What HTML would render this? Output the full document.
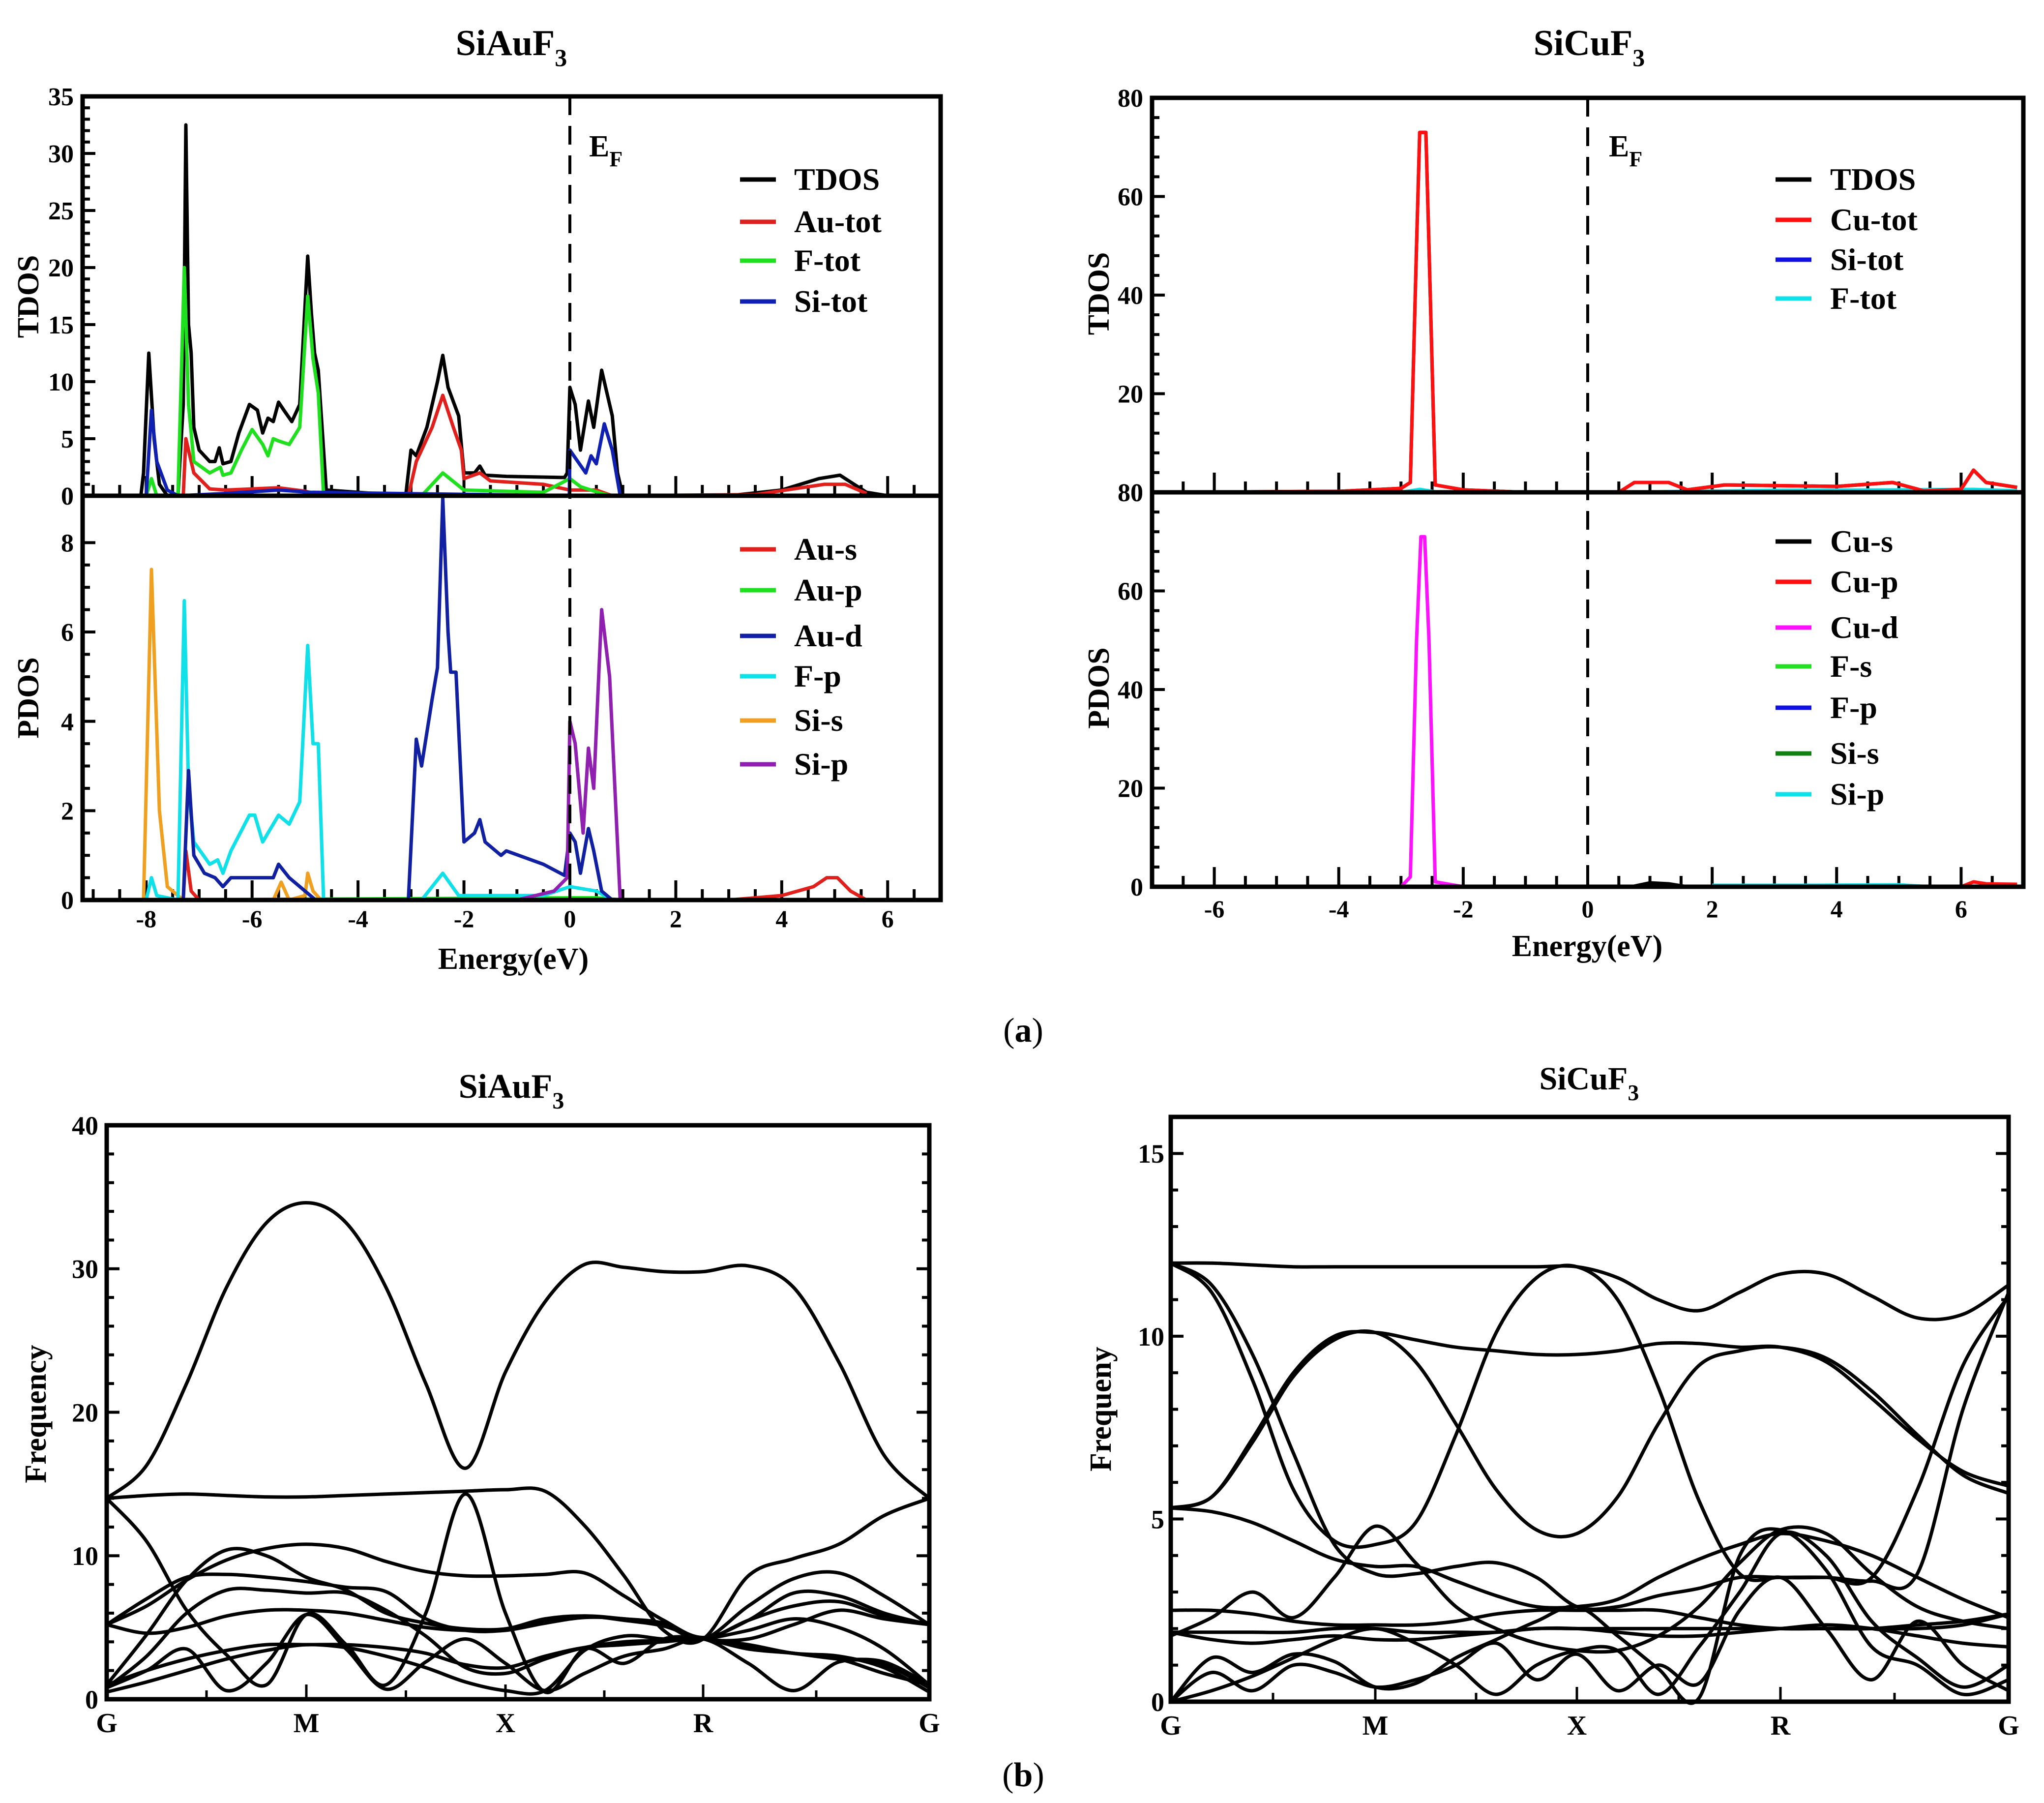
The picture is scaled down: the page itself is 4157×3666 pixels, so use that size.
<!DOCTYPE html>
<html><head><meta charset="utf-8"><style>
html,body{margin:0;padding:0;background:#fff;overflow:hidden;}
svg{display:block;}
text{font-family:"Liberation Serif",serif;font-weight:bold;fill:#000;}
</style></head><body>
<svg id="fig" xmlns="http://www.w3.org/2000/svg" width="4157" height="3666" viewBox="0 0 4157 3666">
<rect width="4157" height="3666" fill="#fff"/>
<text x="1040" y="112" font-size="74" text-anchor="middle">SiAuF<tspan font-size="50" dy="22">3</tspan></text>
<text x="3232" y="112" font-size="74" text-anchor="middle">SiCuF<tspan font-size="50" dy="22">3</tspan></text>
<text x="1040" y="2232" font-size="70" text-anchor="middle">SiAuF<tspan font-size="48" dy="22">3</tspan></text>
<text x="3232" y="2215" font-size="66" text-anchor="middle">SiCuF<tspan font-size="46" dy="22">3</tspan></text>
<text x="2081" y="2118" font-size="70" text-anchor="middle" style="font-weight:normal">(<tspan font-weight="bold">a</tspan>)</text>
<text x="2081" y="3632" font-size="70" text-anchor="middle" style="font-weight:normal">(<tspan font-weight="bold">b</tspan>)</text>
<g id="plots"></g>
</svg>
<script>
// ===== SiAuF3 DOS data =====
const auTdosE=[-8.1,-8.05,-7.95,-7.85,-7.75,-7.6,-7.4,-7.3,-7.25,-7.2,-7.15,-7.1,-7.0,-6.8,-6.7,-6.62,-6.55,-6.4,-6.25,-6.05,-5.9,-5.8,-5.7,-5.6,-5.5,-5.4,-5.25,-5.1,-4.95,-4.88,-4.82,-4.75,-4.65,-4.6,-3.1,-3.0,-2.9,-2.7,-2.5,-2.4,-2.3,-2.1,-2.0,-1.8,-1.7,-1.6,-1.2,-0.1,-0.05,0,0.1,0.2,0.35,0.45,0.6,0.8,0.9,1.0,3,4,4.7,5.1,5.3,5.6,6];
const auTdosV=[0,2,12.5,5,1,0,0,8,32.5,15,12.5,6,4,3,3,4.2,2.8,3,5.5,8,7.5,5.5,6.8,6.5,8.2,7.5,6.5,8,21,16,12.5,11,4,0.5,0,4,3.5,6,10,12.3,9.5,7,2,2,2.6,1.8,1.7,1.6,2,9.5,8,4,8.3,6,11,7,2,0,0,0.5,1.5,1.8,1.2,0.3,0];
const auTotE=[-7.3,-7.25,-7.1,-6.8,-6.5,-5.5,-5,-4.7,-3.05,-2.9,-2.6,-2.4,-2.2,-2.05,-2.0,-1.7,-1.5,-0.5,0,0.5,0.8,3.5,4.8,5.2,5.6];
const auTotV=[0,5,2,0.6,0.5,0.7,0.4,0,0,3,6,8.8,6,4,1.5,2,1.3,1,0.5,0.5,0,0.1,1,1,0.2];
const fTotE=[-8,-7.9,-7.8,-7.4,-7.28,-7.2,-7.1,-6.8,-6.6,-6.55,-6.4,-6.2,-6.0,-5.8,-5.7,-5.6,-5.5,-5.3,-5.1,-4.95,-4.85,-4.75,-4.65,-2.8,-2.4,-2.0,-0.5,0,0.2,0.6,0.8];
const fTotV=[0,1.5,0,0,20,8,3,2,2.5,1.8,2,4,5.8,4.5,3.5,5,4.8,4.5,6,17.5,12,9,0,0,2,0.5,0.3,1.5,0.8,0.2,0];
const siTotE=[-8.0,-7.9,-7.8,-7.6,-7.4,-6.5,-5.5,-4.9,-0.01,0,0.15,0.3,0.4,0.5,0.65,0.8,0.95];
const siTotV=[0,7.5,3,0.5,0,0.2,0.5,0.3,0,4,3,2,3.5,2.8,6.3,4,0];
const auSE=[-7.3,-7.25,-7.15,-7,3,4,4.6,4.85,5.05,5.3,5.6];
const auSV=[0,1.1,0.2,0,0,0.1,0.3,0.5,0.5,0.2,0];
const auPE=[-8,0,0.5,1];
const auPV=[0,0.05,0.05,0];
const auDE=[-7.3,-7.2,-7.1,-6.9,-6.7,-6.55,-6.4,-5.6,-5.5,-5.3,-5,-4.8,-3.05,-2.9,-2.8,-2.6,-2.5,-2.4,-2.3,-2.25,-2.15,-2.0,-1.8,-1.7,-1.6,-1.3,-1.2,-0.5,-0.1,0,0.1,0.2,0.35,0.45,0.6,0.8];
const auDV=[0,2.9,1,0.6,0.5,0.3,0.5,0.5,0.8,0.5,0.2,0,0,3.6,3.0,4.5,5.2,9,6,5.1,5.1,1.3,1.5,1.8,1.3,1,1.1,0.8,0.55,1.5,1.3,0.6,1.6,1.1,0.2,0];
const fPE=[-8.0,-7.9,-7.8,-7.4,-7.28,-7.2,-7.1,-6.8,-6.65,-6.55,-6.4,-6.05,-5.95,-5.8,-5.6,-5.5,-5.3,-5.1,-4.95,-4.85,-4.75,-4.65,-2.8,-2.4,-2.1,-0.5,0,0.5,0.8];
const fPV=[0,0.5,0.1,0,6.7,2.5,1.3,0.8,0.9,0.6,1.1,1.9,1.9,1.3,1.7,1.9,1.7,2.2,5.7,3.5,3.5,0,0,0.6,0.1,0.1,0.3,0.2,0];
const siSE=[-8.05,-7.9,-7.75,-7.6,-7.3,-5.6,-5.45,-5.3,-5.0,-4.95,-4.85,-4.7];
const siSV=[0,7.4,2,0.3,0,0,0.4,0,0.1,0.6,0.2,0];
const siPE=[-1,-0.3,-0.05,0,0.1,0.25,0.35,0.45,0.6,0.75,0.95];
const siPV=[0,0.2,0.5,4,3.5,1.5,3.4,2.5,6.5,5,0];
// ===== SiCuF3 DOS data =====
const cuTotE=[-7,-4,-3,-2.85,-2.75,-2.7,-2.6,-2.55,-2.45,-2,-1,0.5,0.75,1.3,1.6,2.2,4,4.9,5.4,6,6.2,6.4,6.9];
const cuTotV=[0,0.2,0.8,2,50,73,73,50,1.5,0.5,0,0,2,2,0.5,1.5,1.2,2,0.3,0.6,4.5,2,1];
const cuFtotE=[-3,-2.7,-2.4,0.5,3,5,6.2,6.9];
const cuFtotV=[0,0.6,0,0,0.4,0.5,0.6,0.3];
const cuSE=[0.7,1,1.3,1.6];
const cuSV=[0,0.8,0.6,0];
const cuPE=[6,6.2,6.4,6.9];
const cuPV=[0,1,0.6,0.5];
const cuDE=[-3,-2.85,-2.75,-2.68,-2.62,-2.55,-2.45,-2];
const cuDV=[0,2,50,71,71,50,1,0];
const cuSiPE=[2,3.5,5,5.5];
const cuSiPV=[0.3,0.3,0.4,0];
// ===== band data (k = 0..4 step 0.2 : G-M-X-R-G) =====
const kPoints=[0,0.2,0.4,0.6,0.8,1.0,1.2,1.4,1.6,1.8,2.0,2.2,2.4,2.6,2.8,3.0,3.2,3.4,3.6,3.8,4.0];
const symLabels=["G","M","X","R","G"];
const auBands=[
[14,16.3,22,28.7,33.2,34.6,33.2,28.7,22,16.1,22.8,27.7,30.3,30.1,29.8,29.8,30.2,28.7,23.5,17,14],
[14,14.2,14.3,14.2,14.1,14.1,14.2,14.3,14.4,14.5,14.6,14.5,12.1,8.6,4.8,4.2,8.6,9.8,10.8,12.8,14],
[14,11,6.2,3.1,1.0,5.9,3.8,1.0,6,14.3,6,0.5,3.5,2.5,4.2,4.2,3.5,3.2,2.8,1.8,1],
[5.2,6.5,8.3,9.7,10.5,10.8,10.5,9.6,8.9,8.6,8.6,8.7,8.8,7.2,5.5,4.3,5.5,7.4,7.2,6,5.2],
[1,4.5,8.3,10.4,10,8.5,7.6,6,5.3,4.9,4.9,5.5,5.8,5.6,5.3,4.2,5.5,6.5,6.8,5.8,5.2],
[5.2,7,8.5,8.7,8.5,8.2,7.8,7.5,5.6,4.8,4.8,5.3,5.7,5.6,5.2,4.2,6.5,8.4,8.8,7.2,5.2],
[0.8,3,6,7.6,7.6,7.4,7.4,6.2,4.4,2.2,1.8,2.8,3.6,4,4.1,4.2,4.8,5.6,5.0,3.5,1.0],
[5.2,4.6,5.0,5.8,6.2,6.2,6,5.5,5,4.8,4.9,5.6,5.8,5.5,5.1,4.2,4.2,5.2,6.2,5.6,5.2],
[1,2,2.8,3.4,3.8,3.8,3.8,3.6,3.2,2.4,2.2,3,3.6,3.8,4,4.2,3.6,3.2,2.8,2.6,1],
[0.8,2,3.5,0.6,2.5,5.9,3.5,0.7,2.6,4.2,2.5,0.6,1.8,3,3.5,4.2,2.5,0.6,2.6,2.4,0.8],
[0.5,1.2,2.0,2.8,3.4,3.8,3.6,3.0,2.2,1.2,0.6,0.6,3.4,4.4,4.2,4.2,3.8,3.2,3.0,2.2,0.5]
];
const cuBands=[
[12,12,11.95,11.9,11.9,11.9,11.9,11.9,11.9,11.9,11.9,11.6,11.0,10.7,11.2,11.7,11.7,11.1,10.5,10.6,11.4],
[12,11.4,9.5,6.8,4.3,3.5,3.5,3.7,3.8,3.4,2.6,2.6,2.9,3.1,3.4,3.4,3.4,3.3,3.5,8,11.2],
[12,11.2,8.8,5.8,4.4,4.3,4.9,7.3,10.1,11.6,11.9,11.0,8.6,5.5,3.5,3.4,3.4,3.4,5.8,9.2,11.1],
[5.3,5.6,7.1,8.9,9.9,10.1,9.3,7.6,5.8,4.7,4.6,5.6,7.6,9.2,9.6,9.7,9.4,8.5,7.3,6.2,5.7],
[5.3,5.6,7.2,9.0,10.0,10.1,9.9,9.7,9.6,9.5,9.5,9.6,9.8,9.8,9.7,9.7,9.3,8.3,7.2,6.3,5.9],
[5.3,5.2,4.9,4.4,3.9,3.7,3.7,3.3,2.9,2.6,2.6,2.8,3.4,3.9,4.3,4.6,4.4,4.0,3.4,2.8,2.3],
[1.8,2.3,3.0,2.3,3.4,4.8,3.8,2.6,2.0,1.6,1.4,1.4,1.8,2.6,3.8,4.7,4.6,3.5,2.6,2.2,2.0],
[2.5,2.5,2.4,2.2,2.1,2.1,2.1,2.2,2.4,2.5,2.5,2.5,2.5,2.3,2.1,2.0,2.0,2.0,2.1,2.2,2.4],
[1.9,1.9,1.9,1.9,2.0,2.0,1.9,1.9,1.9,2.0,2.0,2.0,2.0,2.0,2.0,2.0,2.0,2.0,2.0,2.1,2.4],
[1.9,1.7,1.6,1.7,1.8,1.7,1.7,1.8,1.9,2.0,2.0,1.9,1.8,1.8,1.9,2.0,2.1,2.0,1.8,1.6,1.5],
[0,0.8,0.3,1.0,0.8,0.4,0.6,1.0,1.6,0.6,1.3,0.3,1.0,0.5,2.5,3.4,2.0,0.6,2.2,1.0,0.3],
[0,0.3,0.7,1.2,1.7,2.0,1.6,1.0,0.2,1.0,1.4,1.4,0.2,1.5,3.0,4.6,4.0,2.2,1.2,0.4,1.0],
[0,1.2,0.8,1.3,1.1,0.4,0.5,1.2,1.7,2.2,2.6,1.8,0.9,0.1,4.0,4.7,3.6,1.5,1.0,0.2,0.6]
];
const auDosXTicks=[-8,-6,-4,-2,0,2,4,6];
const cuDosXTicks=[-6,-4,-2,0,2,4,6];

const NS="http://www.w3.org/2000/svg";
const root=document.getElementById('plots');
function el(tag,attrs,parent){const e=document.createElementNS(NS,tag);for(const k in attrs)e.setAttribute(k,attrs[k]);(parent||root).appendChild(e);return e;}
function txt(s,x,y,fs,anchor,parent){const t=el('text',{x:x,y:y,'font-size':fs,'text-anchor':anchor||'middle'},parent);t.textContent=s;return t;}
function lin(d0,d1,p0,p1){return v=>p0+(v-d0)*(p1-p0)/(d1-d0);}

function series(E,V,sx,sy,color,name,w){
  let pts=E.map((e,i)=>sx(e).toFixed(1)+','+sy(V[i]).toFixed(1)).join(' ');
  const p=el('polyline',{points:pts,fill:'none',stroke:color,'stroke-width':w||7,'stroke-linejoin':'round'});
  
  
}
function frame(x0,y0,x1,y1,name){
  const r=el('rect',{x:x0,y:y0,width:x1-x0,height:y1-y0,fill:'none',stroke:'#000','stroke-width':9});
  
  
}
function legend(items,xLine,xText,rows,fs,name){
  const g=el('g',{});
  
  
  items.forEach((it,i)=>{
    el('line',{x1:xLine,x2:xLine+73,y1:rows[i],y2:rows[i],stroke:it[1],'stroke-width':9},g);
    const t=txt(it[0],xText,rows[i]+fs*0.33,fs,'start',g);
    
    
  });
}
function yTicks(x0,sy,min,max,major,minor,fs,labelX,xRight){
  for(let v=min;v<=max+1e-9;v+=minor){
    const isM=Math.abs(v/major-Math.round(v/major))<1e-6;
    el('line',{x1:x0,x2:x0+(isM?26:15),y1:sy(v),y2:sy(v),stroke:'#000','stroke-width':6});
    if(xRight!==undefined) el('line',{x1:xRight,x2:xRight-(isM?26:15),y1:sy(v),y2:sy(v),stroke:'#000','stroke-width':6});
    if(isM&&labelX!==null){const t=txt(String(Math.round(v)),labelX,sy(v)+fs*0.35,fs,'end');}
  }
}
function xTicks(sx,y,min,max,major,minor){
  const start=Math.ceil(min/minor)*minor;
  for(let v=start;v<=max+1e-9;v+=minor){
    const isM=Math.abs(v/major-Math.round(v/major))<1e-6;
    el('line',{x1:sx(v),x2:sx(v),y1:y,y2:y-(isM?40:22),stroke:'#000','stroke-width':6});
  }
}
function ef(x,yTop,yBot,lx,ly){
  const l=el('line',{x1:x,x2:x,y1:yTop,y2:yBot,stroke:'#000','stroke-width':6,'stroke-dasharray':'38,22'});
  
  
  const t=el('text',{x:lx,y:ly,'font-size':62});
  
  
  t.innerHTML='E<tspan font-size="44" dy="20">F</tspan>';
}
function rotLabel(s,x,y,fs,name){
  const t=el('text',{x:x,y:y,'font-size':fs,'text-anchor':'middle',transform:`rotate(-90 ${x} ${y})`});
  t.textContent=s;
  
  
}

// ---------- SiAuF3 DOS ----------
(function(){
  const X0=168,X1=1913,T0=196,M=1008,B=1830;
  const sx=lin(-9.2,7,X0,X1), syT=lin(0,35,M,T0), syP=lin(0,9.05,B,M);
  yTicks(X0,syT,0,35,5,1,52,150);
  yTicks(X0,syP,0,8,2,0.5,52,150);
  xTicks(sx,M,-9,7,2,0.5); xTicks(sx,B,-9,7,2,0.5);
  auDosXTicks.forEach(v=>{const t=txt(String(v),sx(v),1885,50,'middle');});
  series(auTdosE,auTdosV,sx,syT,'#000','series-tdos');
  series(auTotE,auTotV,sx,syT,'#e0201c','series-au-tot');
  series(fTotE,fTotV,sx,syT,'#1ee01e','series-f-tot');
  series(siTotE,siTotV,sx,syT,'#1020b0','series-si-tot');
  series(auSE,auSV,sx,syP,'#e0201c','series-au-s');
  series(auPE,auPV,sx,syP,'#1ee01e','series-au-p');
  series(siSE,siSV,sx,syP,'#f0a020','series-si-s');
  series(fPE,fPV,sx,syP,'#10e0e8','series-f-p');
  series(auDE,auDV,sx,syP,'#1020a0','series-au-d');
  series(siPE,siPV,sx,syP,'#9020b0','series-si-p');
  ef(sx(0),T0,B,1198,318);
  frame(X0,T0,X1,M,'tdos-panel-siauf3'); frame(X0,M,X1,B,'pdos-panel-siauf3');
  rotLabel('TDOS',78,603,62,'y-axis-title-tdos');
  rotLabel('PDOS',78,1419,62,'y-axis-title-pdos');
  const xt=txt('Energy(eV)',1044,1970,62,'middle');
  legend([['TDOS','#000'],['Au-tot','#e0201c'],['F-tot','#1ee01e'],['Si-tot','#1020b0']],1505,1615,[365,451,530,613],64,'legend-tdos-siauf3');
  legend([['Au-s','#e0201c'],['Au-p','#1ee01e'],['Au-d','#1020a0'],['F-p','#10e0e8'],['Si-s','#f0a020'],['Si-p','#9020b0']],1505,1615,[1117,1200,1293,1375,1465,1554],64,'legend-pdos-siauf3');
})();

// ---------- SiCuF3 DOS ----------
(function(){
  const X0=2343,X1=4115,T0=199,M=1001,B=1803;
  const sx=lin(-7,7,X0,X1), syT=lin(0,80,M,T0), syP=lin(0,80,B,M);
  yTicks(X0,syT,0,80,20,4,52,2325);
  yTicks(X0,syP,0,80,20,4,52,2325);
  xTicks(sx,M,-7,7,2,0.5); xTicks(sx,B,-7,7,2,0.5);
  cuDosXTicks.forEach(v=>{const t=txt(String(v),sx(v),1865,50,'middle');});
  series(cuTotE,cuTotV,sx,syT,'#000','series-tdos');
  series(cuFtotE,cuFtotV,sx,syT,'#10e0e8','series-f-tot');
  series(cuTotE,cuTotV,sx,syT,'#ff1010','series-cu-tot');
  series(cuSiPE,cuSiPV,sx,syP,'#10e0e8','series-si-p');
  series(cuSE,cuSV,sx,syP,'#000','series-cu-s');
  series(cuPE,cuPV,sx,syP,'#ff1010','series-cu-p');
  series(cuDE,cuDV,sx,syP,'#ff10ff','series-cu-d');
  ef(sx(0),T0,B,3272,318);
  frame(X0,T0,X1,M,'tdos-panel-sicuf3'); frame(X0,M,X1,B,'pdos-panel-sicuf3');
  rotLabel('TDOS',2255,597,62,'y-axis-title-tdos');
  rotLabel('PDOS',2255,1399,62,'y-axis-title-pdos');
  const xt=txt('Energy(eV)',3228,1944,62,'middle');
  legend([['TDOS','#000'],['Cu-tot','#ff1010'],['Si-tot','#1010e0'],['F-tot','#10e0e8']],3611,3722,[365,447,528,607],64,'legend-tdos-sicuf3');
  legend([['Cu-s','#000'],['Cu-p','#ff1010'],['Cu-d','#ff10ff'],['F-s','#20e020'],['F-p','#1010e0'],['Si-s','#108010'],['Si-p','#10e0e8']],3611,3722,[1101,1183,1276,1355,1439,1532,1615],64,'legend-pdos-sicuf3');
})();

// ---------- band structures ----------
function smoothPath(pts){
  let d='M'+pts[0][0].toFixed(1)+','+pts[0][1].toFixed(1);
  for(let i=0;i<pts.length-1;i++){
    const p0=pts[Math.max(0,i-1)],p1=pts[i],p2=pts[i+1],p3=pts[Math.min(pts.length-1,i+2)];
    const c1=[p1[0]+(p2[0]-p0[0])/6,p1[1]+(p2[1]-p0[1])/6];
    const c2=[p2[0]-(p3[0]-p1[0])/6,p2[1]-(p3[1]-p1[1])/6];
    d+=`C${c1[0].toFixed(1)},${c1[1].toFixed(1)} ${c2[0].toFixed(1)},${c2[1].toFixed(1)} ${p2[0].toFixed(1)},${p2[1].toFixed(1)}`;
  }
  return d;
}
function bandPlot(bands,symX,Y0,Y1,fmax,major,minor,labelX,labelY,title,titleX,titleY,prefix){
  const sy=lin(0,fmax,Y1,Y0);
  const sk=k=>{const i=Math.min(3,Math.floor(k));return symX[i]+(k-i)*(symX[i+1]-symX[i]);};
  yTicks(symX[0],sy,0,fmax,major,minor,54,labelX,symX[4]);
  for(let i=0;i<4;i++){
    el('line',{x1:sk(i+0.5),x2:sk(i+0.5),y1:Y1,y2:Y1-18,stroke:'#000','stroke-width':5});
    if(i>0) el('line',{x1:sk(i),x2:sk(i),y1:Y1,y2:Y1-30,stroke:'#000','stroke-width':5});
  }
  bands.forEach((b,j)=>{
    const pts=b.map((f,i)=>[sk(kPoints[i]),sy(f)]);
    const p=el('path',{d:smoothPath(pts),fill:'none',stroke:'#000','stroke-width':7});
    
    
  });
  frame(symX[0],Y0,symX[4],Y1,prefix+'-band-frame');
  symLabels.forEach((s,i)=>{const t=txt(s,sk(i),labelY,56,'middle');});
  rotLabel(title,titleX,titleY,62,'y-axis-title-frequency');
}
bandPlot(auBands,[217,623,1028,1430,1890],2288,3455,40,10,2,200,3522,'Frequency',93,2875,'siauf3');
bandPlot(cuBands,[2381,2797,3207,3621,4085],2271,3460,16,5,1,2368,3527,'Frequeny',2259,2865,'sicuf3');
</script>
</body></html>
